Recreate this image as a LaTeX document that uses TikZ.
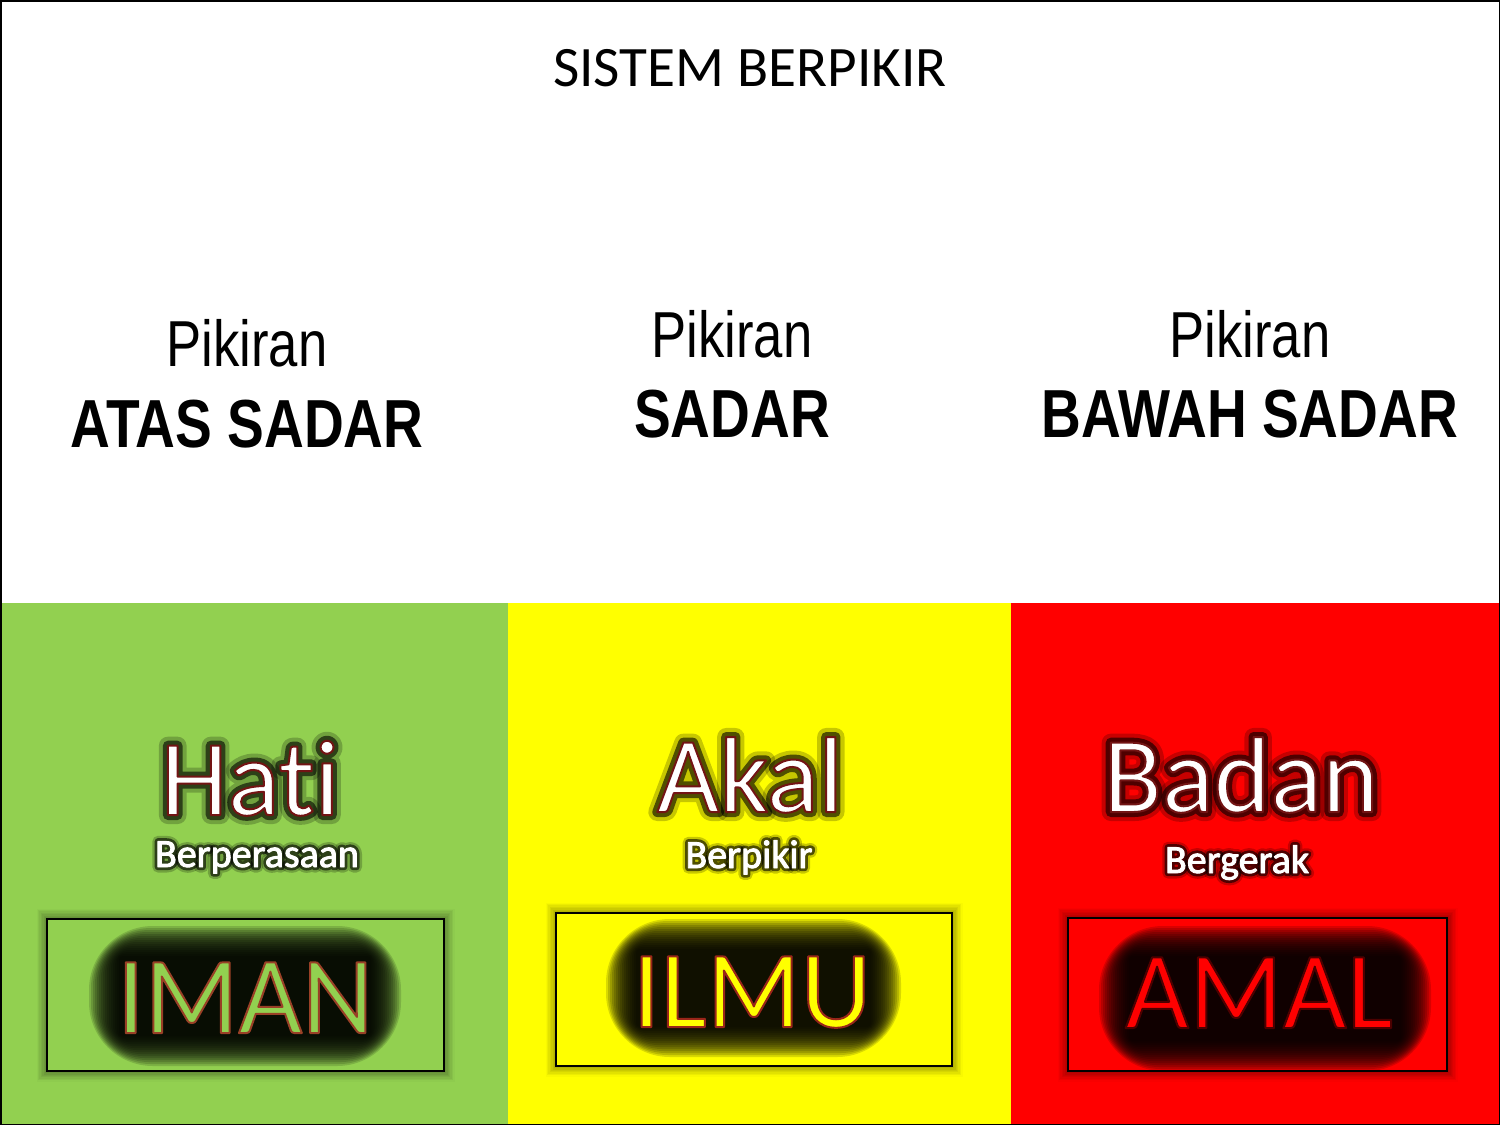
\documentclass[tikz,border=0pt]{standalone}
\usepackage{fontspec}
\setmainfont{Carlito}[Ligatures=CommonOff]
\newfontfamily\narrowfont[FakeStretch=0.81]{Liberation Sans}
\usetikzlibrary{calc}
\definecolor{pgreen}{HTML}{92D050}
\definecolor{pyellow}{HTML}{FFFF00}
\definecolor{pred}{HTML}{FF0000}

% stroked text helpers (PDF text render modes)
\newcommand\strk[3]{\special{pdf:literal direct #1 RG #2 Tr #3 w 1 j}}
\newcommand\strkoff{\special{pdf:literal direct 0 Tr}}

% halo text: name, position, font, text, fill colour, outline RG, outer w, inner w, edge w
\newcommand\halotext[9]{%
  \node[anchor=base, inner sep=0, font=#3, text=black, opacity=0.22] at (#2) {\strk{0 0 0}{1}{#7}#4\strkoff};
  \node[anchor=base, inner sep=0, font=#3, text=black, opacity=0.6] at (#2) {\strk{0 0 0}{1}{#8}#4\strkoff};
  \node[anchor=base, inner sep=0, font=#3, text=#5] (#1) at (#2) {\strk{#6}{2}{#9}#4\strkoff};
}
% soft black glow: x1,y1,x2,y2
\newcommand\glowrect[4]{%
  \foreach \i in {0,...,15}{%
    \fill[black, opacity=0.15, rounded corners={32-2*\i}]
      ($(#1,#2)+(-8+2*\i,-8+2*\i)$) rectangle ($(#3,#4)-(-8+2*\i,-8+2*\i)$);
  }%
}
% soft shadow round a box: x1,y1,x2,y2
\newcommand\boxshade[4]{%
  \foreach \i in {1,...,7}{%
    \pgfmathsetmacro\op{0.34-0.045*\i}%
    \draw[black, opacity=\op, line width=0.7pt]
      ($(#1,#2)-(\i*1.4,\i*1.4)$) rectangle ($(#3,#4)+(\i*1.4,\i*1.4)$);
  }%
}

\tikzset{
  panelbox/.style={draw=black, line width=1pt, inner sep=0},
  lbl/.style={anchor=base, inner sep=0},
  narrowlbl/.style={anchor=base, inner sep=0, font=\narrowfont\fontsize{32.5}{36}\selectfont},
  narrowbold/.style={anchor=base, inner sep=0, font=\narrowfont\bfseries\fontsize{34}{38}\selectfont},
}

\begin{document}
\begin{tikzpicture}[x=0.5pt,y=-0.5pt]
\useasboundingbox (0,0) rectangle (1500,1125);
\fill[white] (0,0) rectangle (1500,1125);

% panels
\fill[pgreen] (0,603) rectangle (508,1125);
\fill[pyellow] (508,603) rectangle (1011,1125);
\fill[pred] (1011,603) rectangle (1500,1125);

% title
\node[lbl, font=\fontsize{28.6}{32}\selectfont] (title) at (750,86) {SISTEM BERPIKIR};

% column headings
\node[narrowlbl] (p1) at (247,366) {Pikiran};
\node[narrowbold] (h1) at (247,447) {ATAS SADAR};
\node[narrowlbl] (p2) at (732,357) {Pikiran};
\node[narrowbold] (h2) at (732,437) {SADAR};
\node[narrowlbl] (p3) at (1250,357) {Pikiran};
\node[narrowbold] (h3) at (1250,437) {BAWAH SADAR};

% big words
\halotext{hati}{250,815}{\fontsize{54}{60}\selectfont}{Hati}{white}{0.45 0.08 0.08}{9}{5}{1.0}
\halotext{akal}{750,812}{\fontsize{54}{60}\selectfont}{Akal}{white}{0.45 0.08 0.08}{9}{5}{1.0}
\halotext{badan}{1241,812}{\fontsize{54}{60}\selectfont}{Badan}{white}{0.45 0.08 0.08}{9}{5}{1.0}

% small words
\halotext{rasa}{257,867}{\fontsize{20}{24}\selectfont}{Berperasaan}{white}{1 1 1}{5.5}{3.2}{0.45}
\halotext{fikir}{749,868}{\fontsize{20}{24}\selectfont}{Berpikir}{white}{1 1 1}{5.5}{3.2}{0.45}
\halotext{gerak}{1237,873}{\fontsize{20}{24}\selectfont}{Bergerak}{white}{1 1 1}{5.5}{3.2}{0.45}

% boxes
\boxshade{47}{919}{444}{1071}
\boxshade{556}{913}{952}{1066}
\boxshade{1068}{918}{1447}{1071}
\node[panelbox, fill=pgreen, minimum width=198.5pt, minimum height=76pt] (imanbox) at (245.5,995) {};
\node[panelbox, fill=pyellow, minimum width=198pt, minimum height=76.5pt] (ilmubox) at (754,989.5) {};
\node[panelbox, fill=pred, minimum width=189.5pt, minimum height=76.5pt] (amalbox) at (1257.5,994.5) {};

% glows
\glowrect{97}{934}{393}{1058}
\glowrect{614}{927}{893}{1049}
\glowrect{1107}{934}{1423}{1063}

% box words
\node[lbl, font=\fontsize{55}{60}\selectfont, text=pgreen] (iman) at (245,1033) {\strk{0.6 0.25 0.15}{2}{1.0}IMAN\strkoff};
\node[lbl, font=\fontsize{55}{60}\selectfont, text=pyellow] (ilmu) at (752,1027) {\strk{0.6 0.15 0.1}{2}{1.0}ILMU\strkoff};
\node[lbl, font=\fontsize{55}{60}\selectfont, text=pred] (amal) at (1259,1028) {\strk{0.3 0 0}{2}{1.0}AMAL\strkoff};

% frame
\draw[black, line width=0.75pt] (0.75,0.75) rectangle (1499.25,1124.25);
\end{tikzpicture}
\end{document}
